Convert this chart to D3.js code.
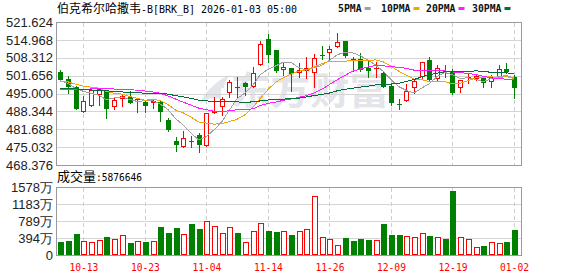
<!DOCTYPE html>
<html>
<head>
<meta charset="utf-8">
<script src="https://cdn.jsdelivr.net/npm/d3@7"></script>
<style>
body{margin:0;background:#fff}
svg{display:block}
</style>
</head>
<body>
<svg id="chart" width="578" height="276"></svg>
<script>
// trading days shown
var dates = [
    "2025-10-08","2025-10-09","2025-10-10","2025-10-13","2025-10-14","2025-10-15","2025-10-16","2025-10-17",
    "2025-10-20","2025-10-21","2025-10-22","2025-10-23","2025-10-24","2025-10-27","2025-10-28","2025-10-29",
    "2025-10-30","2025-10-31","2025-11-03","2025-11-04","2025-11-05","2025-11-06","2025-11-07","2025-11-10",
    "2025-11-11","2025-11-12","2025-11-13","2025-11-14","2025-11-17","2025-11-18","2025-11-19","2025-11-20",
    "2025-11-21","2025-11-24","2025-11-25","2025-11-26","2025-11-28","2025-12-01","2025-12-02","2025-12-03",
    "2025-12-04","2025-12-05","2025-12-08","2025-12-09","2025-12-10","2025-12-11","2025-12-12","2025-12-15",
    "2025-12-16","2025-12-17","2025-12-18","2025-12-19","2025-12-22","2025-12-23","2025-12-24","2025-12-26",
    "2025-12-29","2025-12-30","2025-12-31","2026-01-02"
]
var opens = [
    503.1,500.3,497.3,488.2,490.4,494.3,495.9,490.1,492.8,493.6,492.6,492.0,491.3,492.0,485.1,477.4,
    474.9,477.0,479.5,475.6,487.6,490.1,495.3,497.6,499.0,497.5,505.5,515.3,511.2,503.7,504.4,502.8,
    503.5,502.5,509.4,510.0,512.4,514.7,507.7,507.7,504.6,504.3,502.5,497.8,491.2,492.2,497.2,501.0,
    507.5,500.3,503.4,503.1,496.9,501.0,500.3,500.6,499.4,501.3,504.0,501.0
]
var highs = [
    503.8,501.5,497.8,494.1,497.5,496.9,496.3,493.2,494.8,496.1,492.8,492.6,492.8,492.6,485.7,478.9,
    481.0,479.2,480.2,487.6,493.8,493.8,500.0,501.0,499.4,505.0,514.7,517.2,511.2,506.9,504.6,506.5,
    508.5,509.7,512.7,512.7,517.4,514.7,508.5,510.0,507.2,506.9,503.1,498.8,492.8,498.5,500.0,506.9,
    508.5,505.6,505.6,504.0,500.0,502.5,501.9,501.3,501.9,505.6,506.5,501.9
]
var lows = [
    499.8,495.1,489.3,488.2,490.4,490.6,486.0,489.4,490.4,491.6,488.1,488.2,489.5,484.9,481.0,473.7,
    474.9,475.2,473.1,475.6,487.6,487.0,493.8,493.8,494.4,497.5,505.5,506.9,503.1,501.9,496.0,501.3,
    500.7,497.5,507.7,507.7,512.2,508.7,503.5,503.5,501.3,501.0,497.5,490.7,489.1,492.2,495.1,500.7,
    499.8,499.8,501.3,494.8,495.7,498.8,500.0,497.3,497.5,501.0,502.5,493.2
]
var closes = [
    500.0,497.3,489.4,492.2,496.3,496.5,489.1,492.6,494.1,491.6,492.8,490.4,492.3,488.2,481.4,475.9,
    478.3,477.2,475.8,487.6,488.6,493.0,499.3,497.2,497.5,502.5,513.4,509.3,503.5,504.7,502.1,503.6,
    504.4,508.1,509.2,511.4,514.0,509.0,507.2,503.7,503.5,504.4,497.5,491.6,491.0,496.1,499.7,506.6,
    500.0,504.4,503.5,495.1,500.0,501.3,501.5,498.8,501.0,504.0,503.1,497.2
]
// volume in 万 shares
var volumes = [
    302,325,487,325,294,340,418,363,456,278,325,302,325,650,518,627,
    487,719,603,781,665,511,642,511,302,549,743,557,534,549,464,557,
    596,1361,410,363,224,387,325,371,348,348,719,464,464,433,410,511,
    441,410,371,1485,410,363,178,201,302,278,302,588
]
// closes before the window, only used for the moving averages
var priorCloses = [
    496,499,501,500,498,497,499,500,497,497,
    494,492,490,491,493,492,494,495,496,496,
    497,498.5,499,500,500,501.8,499,497.5,500.2
]
var priceTicks = [468.376,475.032,481.688,488.344,495.000,501.656,508.312,514.968,521.624]
var volTicks = [0,394.5,789,1183.5,1578]
var labelIdx = [3,11,19,27,35,43,51,59]
var maSeries = [
    {name:"5PMA", n:5, color:"#a0a0a0"},
    {name:"10PMA", n:10, color:"#f5a300"},
    {name:"20PMA", n:20, color:"#ff1dff"},
    {name:"30PMA", n:30, color:"#00703a"}
]
var lastVolume = "5876646"

var svg = d3.select("#chart")
var left = 56, right = 522
var x = d3.scaleLinear().domain([-0.56, 60.04]).range([left, right])
var y = d3.scaleLinear().domain([468.376, 521.624]).range([165, 22])
var yv = d3.scaleLinear().domain([0, 1578]).range([255, 187])

var RED = "#ff0000", GREEN = "#008000"
var cnFont = "'Noto Sans CJK SC', sans-serif"
var monoFont = "'DejaVu Sans Mono', monospace"
var numFont = "'Liberation Sans', Arial, sans-serif"

/* title + legend */
var title = svg.append("text").attr("x", 57).attr("y", 13).attr("fill", "#000")
title.append("tspan").attr("font-family", cnFont).attr("font-size", 12).text("伯克希尔哈撒韦")
title.append("tspan").attr("font-family", monoFont).attr("font-size", 11)
    .attr("textLength", 156).attr("lengthAdjust", "spacingAndGlyphs")
    .text("-B[BRK_B] 2026-01-03 05:00")

var legendX = [338, 381, 426, 472]
var leg = svg.append("g").selectAll("g").data(maSeries).enter().append("g")
leg.append("text")
    .attr("x", (d, i) => legendX[i]).attr("y", 12)
    .attr("font-family", monoFont).attr("font-size", 10).attr("font-weight", "bold")
    .attr("textLength", d => d.name.length * 5.9).attr("lengthAdjust", "spacingAndGlyphs")
    .attr("fill", "#111")
    .text(d => d.name)
leg.append("rect")
    .attr("x", (d, i) => legendX[i] + d.name.length * 5.9 + 3).attr("y", 7)
    .attr("width", 6).attr("height", 3)
    .attr("fill", d => d.color)

/* watermark */
var wm = svg.append("g").attr("fill", "#e4e5ea")
wm.append("path")
    .attr("d", "M200,104 C204,92 214,84 226,78 C222,86 219,92 222,100 C214,96 207,98 200,104 Z M212,88 C216,82 222,78 230,75 C226,80 224,84 224,88 Z")
wm.append("text").attr("x", 231).attr("y", 104)
    .attr("font-family", cnFont).attr("font-size", 38).attr("font-weight", "bold")
    .attr("textLength", 158).attr("lengthAdjust", "spacingAndGlyphs")
    .text("东方财富")

/* price grid + axis */
var pAxis = svg.append("g").attr("transform", `translate(${left},0)`)
    .call(d3.axisLeft(y).tickValues(priceTicks).tickFormat(d3.format(".3f"))
        .tickSize(-(right - left)).tickPadding(3))
pAxis.select(".domain").remove()
pAxis.selectAll("line").attr("stroke", "#d4d4d4").attr("shape-rendering", "crispEdges")
pAxis.selectAll("text").attr("font-family", numFont).attr("font-size", 13).attr("fill", "#222")

/* volume grid + axis */
var vAxis = svg.append("g").attr("transform", `translate(${left},0)`)
    .call(d3.axisLeft(yv).tickValues(volTicks)
        .tickFormat(d => d === 0 ? "0" : Math.floor(d) + "万")
        .tickSize(-(right - left)).tickPadding(3))
vAxis.select(".domain").remove()
vAxis.selectAll("line").attr("stroke", "#d4d4d4").attr("shape-rendering", "crispEdges")
vAxis.selectAll("text").attr("font-family", numFont).attr("font-size", 13).attr("fill", "#222")

/* dashed date lines in both panels */
var dash = svg.append("g").attr("stroke", "#cfcfcf").attr("stroke-dasharray", "4,3")
    .attr("shape-rendering", "crispEdges")
dash.selectAll(".dp").data(labelIdx).enter().append("line")
    .attr("x1", i => Math.round(x(i)) + 0.5).attr("x2", i => Math.round(x(i)) + 0.5)
    .attr("y1", 23).attr("y2", 165)
dash.selectAll(".dv").data(labelIdx).enter().append("line")
    .attr("x1", i => Math.round(x(i)) + 0.5).attr("x2", i => Math.round(x(i)) + 0.5)
    .attr("y1", 188).attr("y2", 255)

/* x labels */
var xAxis = svg.append("g").attr("transform", "translate(0,258)")
    .call(d3.axisBottom(x).tickValues(labelIdx).tickFormat(i => dates[i].slice(5)).tickSize(0).tickPadding(3))
xAxis.select(".domain").remove()
xAxis.selectAll("text").attr("font-family", monoFont).attr("font-size", 11)
    .attr("fill", RED).attr("dy", "0.9em")
    .attr("textLength", 29).attr("lengthAdjust", "spacingAndGlyphs")

/* candles */
var candles = dates.map((d, i) => ({i: i, o: opens[i], h: highs[i], l: lows[i], c: closes[i], v: volumes[i]}))
var cg = svg.append("g").attr("shape-rendering", "crispEdges")
candles.forEach(d => {
    var cx = Math.round(x(d.i))
    var up = d.c >= d.o
    var col = up ? RED : GREEN
    var top = Math.round(y(Math.max(d.o, d.c)))
    var bot = Math.round(y(Math.min(d.o, d.c)))
    var hi = Math.round(y(d.h)), lo = Math.round(y(d.l))
    if (up) {
        if (bot - top < 2) {
            cg.append("line").attr("x1", cx + 0.5).attr("x2", cx + 0.5).attr("y1", hi).attr("y2", lo + 1).attr("stroke", col)
            cg.append("rect").attr("x", cx - 2).attr("y", top).attr("width", 5).attr("height", Math.max(bot - top, 1)).attr("fill", col)
        } else {
            cg.append("line").attr("x1", cx + 0.5).attr("x2", cx + 0.5).attr("y1", hi).attr("y2", top).attr("stroke", col)
            cg.append("line").attr("x1", cx + 0.5).attr("x2", cx + 0.5).attr("y1", bot).attr("y2", lo + 1).attr("stroke", col)
            cg.append("rect").attr("x", cx - 1.5).attr("y", top + 0.5).attr("width", 4).attr("height", bot - top - 1)
                .attr("fill", "#fff").attr("stroke", col)
        }
    } else {
        cg.append("line").attr("x1", cx + 0.5).attr("x2", cx + 0.5).attr("y1", hi).attr("y2", lo + 1).attr("stroke", col)
        cg.append("rect").attr("x", cx - 2).attr("y", top).attr("width", 5).attr("height", Math.max(bot - top, 1)).attr("fill", col)
    }
})

/* moving averages */
var allCloses = priorCloses.concat(closes)
var off = priorCloses.length
var line = d3.line().x((d, i) => x(i)).y(d => y(d))
var mag = svg.append("g").attr("fill", "none").attr("stroke-width", 1).attr("shape-rendering", "crispEdges")
maSeries.forEach(s => {
    var vals = closes.map((c, i) => d3.mean(allCloses.slice(off + i - s.n + 1, off + i + 1)))
    mag.append("path").attr("d", line(vals)).attr("stroke", s.color)
})

/* volume bars, colour by change against previous close */
var vg = svg.append("g").attr("shape-rendering", "crispEdges")
candles.forEach(d => {
    var cx = Math.round(x(d.i))
    var prev = d.i > 0 ? closes[d.i - 1] : d.o
    var up = d.c >= prev
    var t = Math.round(yv(d.v)), b = 255
    if (up) {
        vg.append("rect").attr("x", cx - 1.5).attr("y", t + 0.5).attr("width", 5).attr("height", b - t - 1)
            .attr("fill", "#fff").attr("stroke", RED)
    } else {
        vg.append("rect").attr("x", cx - 2).attr("y", t).attr("width", 6).attr("height", b - t).attr("fill", GREEN)
    }
})

/* frames */
svg.append("rect").attr("x", left + 0.5).attr("y", 22.5).attr("width", right - left - 1).attr("height", 143)
    .attr("fill", "none").attr("stroke", "#9a9a9a").attr("shape-rendering", "crispEdges")
svg.append("rect").attr("x", left + 0.5).attr("y", 187.5).attr("width", right - left - 1).attr("height", 68)
    .attr("fill", "none").attr("stroke", "#9a9a9a").attr("shape-rendering", "crispEdges")

/* volume caption */
var vt = svg.append("text").attr("x", 57).attr("y", 181).attr("fill", "#000")
vt.append("tspan").attr("font-family", cnFont).attr("font-size", 13).text("成交量")
vt.append("tspan").attr("font-family", monoFont).attr("font-size", 11)
    .attr("textLength", 46).attr("lengthAdjust", "spacingAndGlyphs")
    .text(":" + lastVolume)
</script>
</body>
</html>
